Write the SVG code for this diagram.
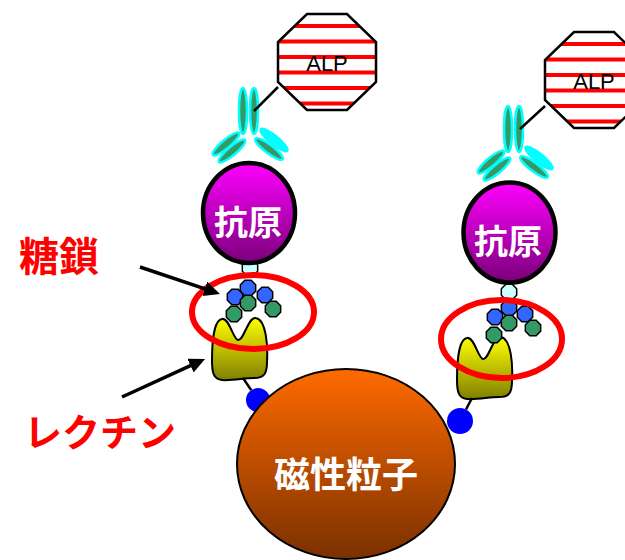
<svg xmlns="http://www.w3.org/2000/svg" xmlns:xlink="http://www.w3.org/1999/xlink" width="625" height="560" viewBox="0 0 625 560">
  <style>
    .jp { font-family: "Noto Sans CJK JP", "Noto Sans", sans-serif; font-weight: bold; }
    .label { fill: #ff0000; }
    .inner { fill: #ffffff; text-anchor: middle; }
    .alp-text { font-family: "Liberation Sans", Arial, sans-serif; font-size: 22px; fill: #000000; text-anchor: middle; }
    .heavy { fill: #339966; stroke: #00ffff; stroke-width: 2.5; }
    .light-cyan { fill: #00ffff; stroke: #00ffff; stroke-width: 2.5; }
    .antigen { stroke: #000000; stroke-width: 4.5; fill: url(#antigenFill); }
    .lectin { fill: url(#lectinFill); stroke: #000000; stroke-width: 2; }
    .ring { fill: none; stroke: #ff0000; stroke-width: 6; }
    .link { stroke: #000000; stroke-width: 2.5; fill: none; }
    .pointer { stroke: #000000; stroke-width: 3.5; fill: none; marker-end: url(#head); }
    .dot { fill: #0000ff; }
    .sugar { stroke: #000000; stroke-width: 1.5; }
  </style>
  <defs>
    <linearGradient id="antigenFill" x1="0" y1="0" x2="0" y2="1">
      <stop offset="0" stop-color="#ff00ff"/>
      <stop offset="1" stop-color="#7a007a"/>
    </linearGradient>
    <linearGradient id="particleFill" x1="0" y1="0" x2="0" y2="1">
      <stop offset="0" stop-color="#ff6a00"/>
      <stop offset="1" stop-color="#7a3000"/>
    </linearGradient>
    <linearGradient id="lectinFill" x1="0" y1="0" x2="0" y2="1">
      <stop offset="0" stop-color="#ffff00"/>
      <stop offset="1" stop-color="#7f7f00"/>
    </linearGradient>
    <marker id="head" markerUnits="userSpaceOnUse" markerWidth="18" markerHeight="16" refX="12" refY="7.5" orient="auto">
      <path d="M0,0 L16,7.5 L0,15 Z" fill="#000000"/>
    </marker>
    <!-- enzyme label: striped octagon centred on the origin -->
    <clipPath id="octClip">
      <polygon points="-20,-48 20,-48 49,-20 49,20 20,48 -20,48 -49,20 -49,-20"/>
    </clipPath>
    <g id="alp">
      <polygon points="-20,-48 20,-48 49,-20 49,20 20,48 -20,48 -49,20 -49,-20" fill="#ffffff"/>
      <g clip-path="url(#octClip)" stroke="#ff0000" stroke-width="4">
        <line x1="-50" y1="-36" x2="50" y2="-36"/>
        <line x1="-50" y1="-20.5" x2="50" y2="-20.5"/>
        <line x1="-50" y1="-5" x2="50" y2="-5"/>
        <line x1="-50" y1="10.5" x2="50" y2="10.5"/>
        <line x1="-50" y1="26" x2="50" y2="26"/>
        <line x1="-50" y1="41.5" x2="50" y2="41.5"/>
      </g>
      <polygon points="-20,-48 20,-48 49,-20 49,20 20,48 -20,48 -49,20 -49,-20" fill="none" stroke="#000000" stroke-width="2.5"/>
      <text class="alp-text" x="0" y="9">ALP</text>
    </g>
    <!-- Y-shaped antibody centred between its two stems -->
    <g id="antibody">
      <ellipse class="light-cyan" cx="0" cy="0" rx="17" ry="4.2" transform="translate(25.5,29) rotate(39)"/>
      <ellipse class="heavy" cx="0" cy="0" rx="17" ry="4.2" transform="translate(-22.5,33) rotate(-40)"/>
      <ellipse class="heavy" cx="0" cy="0" rx="17" ry="4.2" transform="translate(-16.5,40) rotate(-40)"/>
      <ellipse class="heavy" cx="0" cy="0" rx="17" ry="4.2" transform="translate(20.5,38) rotate(37)"/>
      <ellipse class="heavy" cx="-5.5" cy="0" rx="4" ry="23"/>
      <ellipse class="heavy" cx="5.5" cy="0" rx="4" ry="23"/>
    </g>
    <polygon id="oct" class="sugar" points="7.67,3.18 3.18,7.67 -3.18,7.67 -7.67,3.18 -7.67,-3.18 -3.18,-7.67 3.18,-7.67 7.67,-3.18"/>
    <path id="lectinShape" d="M10,1 C17,-1 21,21 26,22 C32,23 36,-2 44,0 C54,2 56,27 55,44 C55,56 52,60 42,60 C32,60 20,63 10,62 C1,61 0,54 0,42 C0,24 2,2 10,1 Z"/>
  </defs>

  <!-- anchoring dots on the particle surface -->
  <g id="anchor-left"><circle class="dot" cx="258" cy="400" r="12"/></g>
  <g id="anchor-right"><circle class="dot" cx="460" cy="421" r="13"/></g>

  <!-- magnetic particle -->
  <g id="particle">
    <ellipse cx="346" cy="464" rx="109" ry="95" fill="url(#particleFill)" stroke="#000000" stroke-width="2"/>
    <text class="jp inner" x="346" y="488" font-size="36">磁性粒子</text>
  </g>

  <!-- left complex -->
  <g id="alp-left"><use xlink:href="#alp" href="#alp" transform="translate(327,62)"/></g>
  <g id="antibody-left"><use xlink:href="#antibody" href="#antibody" transform="translate(248.5,111)"/></g>
  <g id="antigen-left">
    <use xlink:href="#oct" href="#oct" fill="#ccffff" transform="translate(250,268)"/>
    <ellipse class="antigen" cx="249" cy="213" rx="46" ry="50"/>
    <text class="jp inner" x="248" y="235" font-size="34">抗原</text>
  </g>
  <g id="lectin-left"><use xlink:href="#lectinShape" href="#lectinShape" class="lectin" transform="translate(212,318)"/></g>
  <g id="glycan-left">
    <use xlink:href="#oct" href="#oct" fill="#3366ff" transform="translate(248,288)"/>
    <use xlink:href="#oct" href="#oct" fill="#3366ff" transform="translate(235,297)"/>
    <use xlink:href="#oct" href="#oct" fill="#3366ff" transform="translate(265,295)"/>
    <use xlink:href="#oct" href="#oct" fill="#339966" transform="translate(248,303)"/>
    <use xlink:href="#oct" href="#oct" fill="#339966" transform="translate(273,309)"/>
    <use xlink:href="#oct" href="#oct" fill="#339966" transform="translate(234,314)"/>
  </g>
  <g id="ring-left"><ellipse class="ring" cx="253" cy="312" rx="61" ry="37"/></g>

  <!-- right complex -->
  <g id="alp-right"><use xlink:href="#alp" href="#alp" transform="translate(594,80)"/></g>
  <g id="antibody-right"><use xlink:href="#antibody" href="#antibody" transform="translate(513.5,129)"/></g>
  <g id="antigen-right">
    <use xlink:href="#oct" href="#oct" fill="#ccffff" transform="translate(509,292)"/>
    <ellipse class="antigen" cx="509.5" cy="232.5" rx="46" ry="50"/>
    <text class="jp inner" x="508" y="254" font-size="34">抗原</text>
  </g>
  <g id="lectin-right"><use xlink:href="#lectinShape" href="#lectinShape" class="lectin" transform="translate(457,337)"/></g>
  <g id="glycan-right">
    <use xlink:href="#oct" href="#oct" fill="#3366ff" transform="translate(509,308)"/>
    <use xlink:href="#oct" href="#oct" fill="#3366ff" transform="translate(495,317)"/>
    <use xlink:href="#oct" href="#oct" fill="#3366ff" transform="translate(525,314)"/>
    <use xlink:href="#oct" href="#oct" fill="#339966" transform="translate(509,323)"/>
    <use xlink:href="#oct" href="#oct" fill="#339966" transform="translate(533,328)"/>
    <use xlink:href="#oct" href="#oct" fill="#339966" transform="translate(494,335)"/>
  </g>
  <g id="ring-right"><ellipse class="ring" cx="501.5" cy="339" rx="60.5" ry="39"/></g>

  <!-- labels -->
  <g id="label-sugar"><text class="jp label" x="19" y="271" font-size="40">糖鎖</text></g>
  <g id="label-lectin"><text class="jp label" x="24" y="446" font-size="38">レクチン</text></g>

  <!-- connectors -->
  <g id="connectors">
    <line class="link" x1="278" y1="87" x2="254" y2="111"/>
    <line class="link" x1="545" y1="106" x2="520" y2="129"/>
    <line class="link" x1="243" y1="378" x2="251.2" y2="390.1"/>
    <line class="link" x1="472" y1="398" x2="466" y2="409.5"/>
    <line class="pointer" x1="140" y1="267" x2="216.2" y2="292.7"/>
    <line class="pointer" x1="122" y1="397" x2="201.4" y2="360.7"/>
  </g>
</svg>
